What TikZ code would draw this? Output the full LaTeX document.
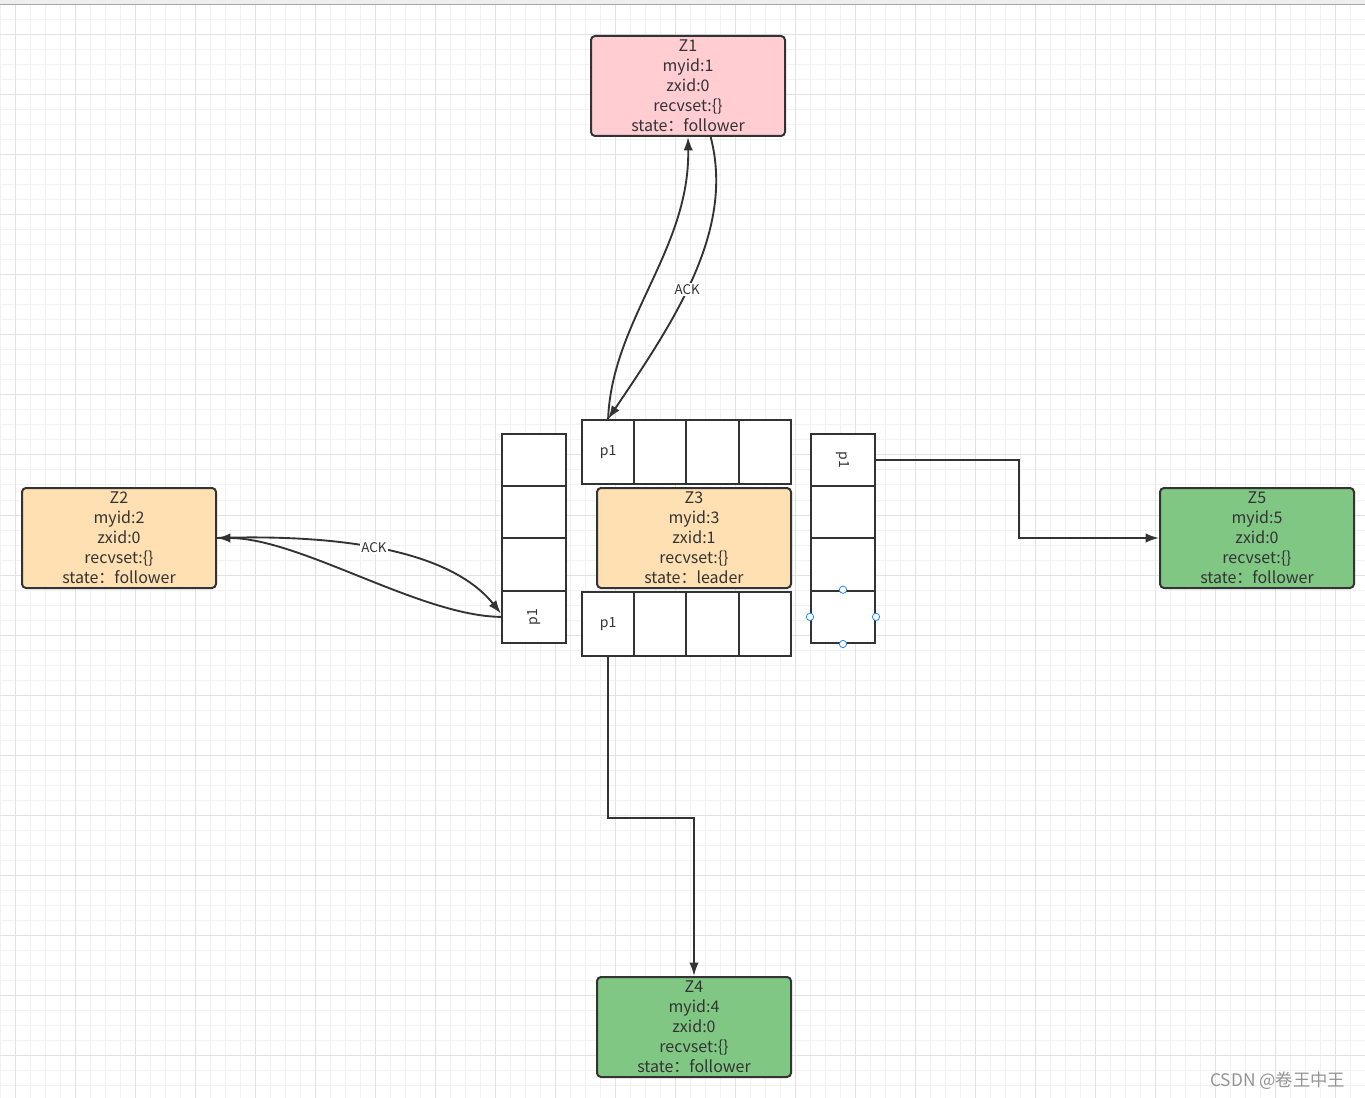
\documentclass[tikz,border=0pt]{standalone}
\usepackage{fontspec}
\setmainfont{Noto Sans CJK SC}
\usetikzlibrary{arrows.meta}
\definecolor{ink}{HTML}{333333}
\definecolor{pinkbox}{HTML}{FFCDD2}
\definecolor{orangebox}{HTML}{FFE0B2}
\definecolor{greenbox}{HTML}{81C784}
\definecolor{gridminor}{HTML}{F2F2F2}
\definecolor{gridmajor}{HTML}{E2E2E2}
\definecolor{handleblue}{HTML}{1E88FF}
\begin{document}
\begin{tikzpicture}[x=0.75pt,y=-0.75pt,
    srv/.style={draw=ink, line width=1.5pt, rounded corners=3pt, align=center, minimum width=145.5pt, minimum height=75pt, inner sep=0pt, text=ink, font=\fontsize{12pt}{15pt}\selectfont},
    cell/.style={draw=ink, fill=white, line width=1.5pt, minimum width=39.2pt, minimum height=48pt, inner sep=0pt, text=ink, font=\fontsize{10.5pt}{12pt}\selectfont},
    vcell/.style={cell, minimum width=48pt, minimum height=39.2pt},
    msg/.style={draw=ink, line width=1.4pt, -{Latex[length=10pt,width=7pt]}},
    ack/.style={fill=white, inner sep=1pt, text=ink, font=\fontsize{10pt}{11pt}\selectfont},
    handle/.style={circle, draw=handleblue, fill=white, line width=0.6pt, minimum size=5.5pt, inner sep=0pt}]
    \useasboundingbox (0,0) rectangle (1365,1098);
    \fill[white] (0,0) rectangle (1365,1098);
    \foreach \gx in {0,15,...,1365} \draw[gridminor, line width=0.75pt] (\gx,5) -- (\gx,1098);
    \foreach \gy in {5,20,...,1098} \draw[gridminor, line width=0.75pt] (0,\gy) -- (1365,\gy);
    \foreach \gx in {15,75,...,1365} \draw[gridmajor, line width=0.75pt] (\gx,5) -- (\gx,1098);
    \foreach \gy in {35,95,...,1098} \draw[gridmajor, line width=0.75pt] (0,\gy) -- (1365,\gy);
    \fill[gridmajor!60] (0,0) rectangle (1365,5);
    \draw[gray!70, line width=0.75pt] (0,5) -- (1365,5);

    \node[srv, fill=pinkbox] (z1) at (688,86) {Z1\\myid:1\\zxid:0\\recvset:\{\}\\state：follower};
    \node[srv, fill=orangebox] (z2) at (119,538) {Z2\\myid:2\\zxid:0\\recvset:\{\}\\state：follower};
    \node[srv, fill=orangebox] (z3) at (694,538) {Z3\\myid:3\\zxid:1\\recvset:\{\}\\state：leader};
    \node[srv, fill=greenbox] (z5) at (1257,538) {Z5\\myid:5\\zxid:0\\recvset:\{\}\\state：follower};
    \node[srv, fill=greenbox] (z4) at (694,1027) {Z4\\myid:4\\zxid:0\\recvset:\{\}\\state：follower};

    \node[cell] (qt1) at (608.1,452) {p1};
    \foreach \i in {2,3,4} \node[cell] (qt\i) at ({582+52.25*(\i-0.5)},452) {};
    \node[cell] (qb1) at (608.1,624) {p1};
    \foreach \i in {2,3,4} \node[cell] (qb\i) at ({582+52.25*(\i-0.5)},624) {};
    \foreach \i in {1,2,3} \node[vcell] (ql\i) at (534,{434+52.25*(\i-0.5)}) {};
    \node[vcell] (ql4) at (534,616.9) {\rotatebox{90}{p1}};
    \node[vcell] (qr1) at (843,460.1) {\rotatebox{-90}{p1}};
    \foreach \i in {2,3,4} \node[vcell] (qr\i) at (843,{434+52.25*(\i-0.5)}) {};

    \draw[msg] (qt1.north) .. controls (612,320) and (690,250) .. (z1.south);
    \draw[msg] ([xshift=17pt]z1.south) .. controls (735,230) and (675,320) .. node[ack, pos=0.55] (ackt) {ACK} (qt1.north);
    \draw[msg] (ql4.west) .. controls (420,616) and (300,538) .. (z2.east);
    \draw[msg] (z2.east) .. controls (340,534) and (450,550) .. node[ack, pos=0.46] (ackl) {ACK} ([yshift=2.5pt]ql4.west);
    \draw[msg] (qr1.east) -- ++(143,0) |- (z5.west);
    \draw[msg] (qb1.south) -- ++(0,161) -| (z4.north);

    \node[handle] (h1) at (qr4.north) {};
    \node[handle] (h2) at (qr4.west) {};
    \node[handle] (h3) at (qr4.east) {};
    \node[handle] (h4) at (qr4.south) {};

    \node[anchor=east, text=gray!85, font=\fontsize{13pt}{15pt}\selectfont] (mark) at (1350,1081) {CSDN @卷王中王};
\end{tikzpicture}
\end{document}
